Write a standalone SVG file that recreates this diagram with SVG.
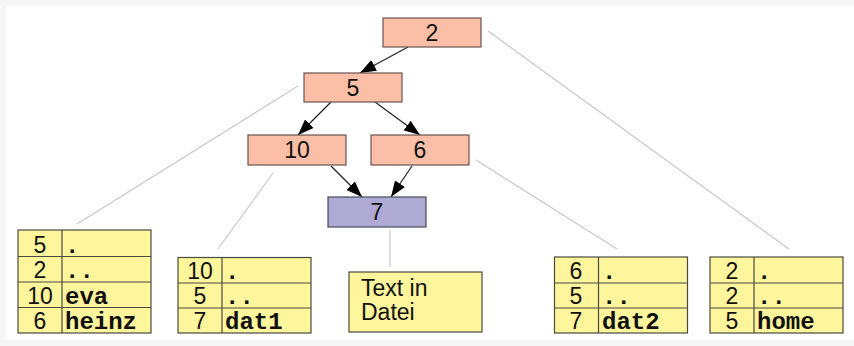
<svg xmlns="http://www.w3.org/2000/svg" width="854" height="346" viewBox="0 0 854 346">
<defs>
<style>
.dir{fill:#FABFA6;stroke:#6a5350;stroke-width:1.2}
.file{fill:#AEAAD3;stroke:#4a4a5a;stroke-width:1.2}
.tab{fill:#FFF59C;stroke:#4a4a40;stroke-width:1.2}
.lbl{font-family:"Liberation Sans",Arial,sans-serif;font-size:23px;fill:#111}
.mono{font-family:"Liberation Mono","Courier New",monospace;font-size:24px;font-weight:bold;fill:#111}
.ptr{stroke:#c8c8c8;stroke-width:1.2;fill:none}
.arr{stroke:#222;stroke-width:1.2;fill:none;marker-end:url(#ah)}
</style>
<marker id="ah" viewBox="0 0 16 12" refX="16" refY="6" markerWidth="16" markerHeight="12" markerUnits="userSpaceOnUse" orient="auto">
<path d="M0,0 L16,6 L0,12 z" fill="#000"/>
</marker>
</defs>
<rect x="0" y="0" width="854" height="346" fill="#f6f6f6"/>
<rect x="6" y="6" width="848" height="334" fill="#ffffff"/>

<g id="connectors">
<line class="arr" x1="408" y1="47" x2="360" y2="73"/>
<line class="arr" x1="331" y1="102" x2="298" y2="135"/>
<line class="arr" x1="375" y1="102" x2="420" y2="135"/>
<line class="arr" x1="331" y1="166" x2="362" y2="197"/>
<line class="arr" x1="412" y1="166" x2="391" y2="197"/>
<line class="ptr" x1="488" y1="31" x2="789" y2="249"/>
<line class="ptr" x1="476" y1="160" x2="617" y2="249"/>
<line class="ptr" x1="298" y1="86" x2="77" y2="224"/>
<line class="ptr" x1="273" y1="173" x2="218" y2="249"/>
<line class="ptr" x1="390" y1="230" x2="390" y2="267"/>
</g>

<g id="n2"><rect class="dir" x="383" y="18" width="98" height="29"/><text class="lbl" x="432" y="41" text-anchor="middle">2</text></g>
<g id="n5"><rect class="dir" x="304" y="73" width="98" height="29"/><text class="lbl" x="353" y="96" text-anchor="middle">5</text></g>
<g id="n10"><rect class="dir" x="248" y="135" width="98" height="30"/><text class="lbl" x="297" y="158" text-anchor="middle">10</text></g>
<g id="n6"><rect class="dir" x="371" y="135" width="98" height="30"/><text class="lbl" x="420" y="158" text-anchor="middle">6</text></g>
<g id="n7"><rect class="file" x="328" y="197" width="98" height="30"/><text class="lbl" x="377" y="220" text-anchor="middle">7</text></g>

<g id="t5">
<rect class="tab" x="18" y="230" width="133" height="103"/>
<line class="tab" x1="62" y1="230" x2="62" y2="333"/>
<line class="tab" x1="18" y1="256.5" x2="151" y2="256.5"/>
<line class="tab" x1="18" y1="282" x2="151" y2="282"/>
<line class="tab" x1="18" y1="307.5" x2="151" y2="307.5"/>
<text class="lbl" x="40" y="253" text-anchor="middle">5</text>
<text class="lbl" x="40" y="278" text-anchor="middle">2</text>
<text class="lbl" x="40" y="304" text-anchor="middle">10</text>
<text class="lbl" x="40" y="329" text-anchor="middle">6</text>
<text class="mono" x="65" y="253">.</text>
<text class="mono" x="65" y="278">..</text>
<text class="mono" x="65" y="304">eva</text>
<text class="mono" x="65" y="329">heinz</text>
</g>

<g id="t10">
<rect class="tab" x="178" y="257.5" width="133" height="75.5"/>
<line class="tab" x1="222" y1="257.5" x2="222" y2="333"/>
<line class="tab" x1="178" y1="283" x2="311" y2="283"/>
<line class="tab" x1="178" y1="308" x2="311" y2="308"/>
<text class="lbl" x="200" y="279" text-anchor="middle">10</text>
<text class="lbl" x="200" y="304" text-anchor="middle">5</text>
<text class="lbl" x="200" y="329" text-anchor="middle">7</text>
<text class="mono" x="225" y="279">.</text>
<text class="mono" x="225" y="304">..</text>
<text class="mono" x="225" y="329">dat1</text>
</g>

<g id="tfile">
<rect class="tab" x="349" y="272" width="133" height="60"/>
<text class="lbl" x="361" y="296">Text in</text>
<text class="lbl" x="361" y="320">Datei</text>
</g>

<g id="t6">
<rect class="tab" x="554.5" y="257" width="133" height="76"/>
<line class="tab" x1="598.5" y1="257" x2="598.5" y2="333"/>
<line class="tab" x1="554.5" y1="283" x2="687.5" y2="283"/>
<line class="tab" x1="554.5" y1="308" x2="687.5" y2="308"/>
<text class="lbl" x="576" y="279" text-anchor="middle">6</text>
<text class="lbl" x="576" y="304" text-anchor="middle">5</text>
<text class="lbl" x="576" y="329" text-anchor="middle">7</text>
<text class="mono" x="602" y="279">.</text>
<text class="mono" x="602" y="304">..</text>
<text class="mono" x="602" y="329">dat2</text>
</g>

<g id="t2">
<rect class="tab" x="710" y="257" width="133" height="76"/>
<line class="tab" x1="754" y1="257" x2="754" y2="333"/>
<line class="tab" x1="710" y1="283" x2="843" y2="283"/>
<line class="tab" x1="710" y1="308" x2="843" y2="308"/>
<text class="lbl" x="732" y="279" text-anchor="middle">2</text>
<text class="lbl" x="732" y="304" text-anchor="middle">2</text>
<text class="lbl" x="732" y="329" text-anchor="middle">5</text>
<text class="mono" x="757" y="279">.</text>
<text class="mono" x="757" y="304">..</text>
<text class="mono" x="757" y="329">home</text>
</g>
</svg>
